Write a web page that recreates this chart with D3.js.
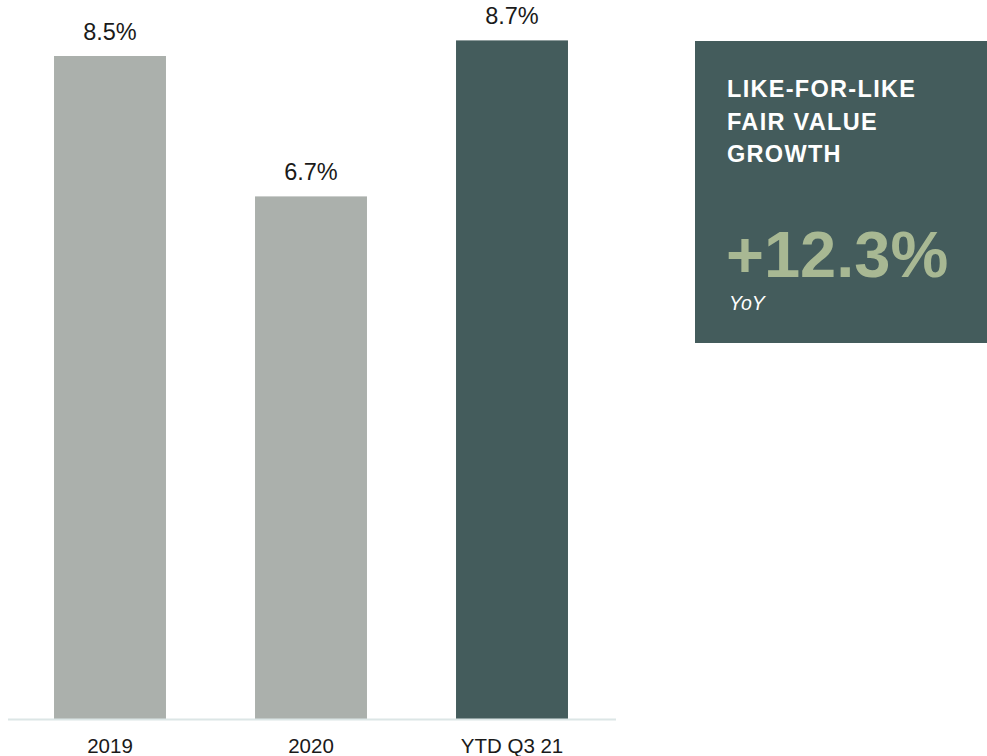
<!DOCTYPE html>
<html>
<head>
<meta charset="utf-8">
<script src="https://cdn.jsdelivr.net/npm/d3@7"></script>
<style>
  html, body { margin: 0; padding: 0; background: #ffffff; }
  svg { display: block; font-family: "Liberation Sans", Arial, sans-serif; }
</style>
</head>
<body>
<svg id="chart" width="987" height="756"></svg>
<script>
// Like-for-like fair value growth by period
const categories = ["2019", "2020", "YTD Q3 21"];
const values = [8.5, 6.7, 8.7];
const barColors = ["#abb0ac", "#abb0ac", "#445c5c"];
const valueLabels = ["8.5%", "6.7%", "8.7%"];

const calloutTitle = ["LIKE-FOR-LIKE", "FAIR VALUE", "GROWTH"];
const calloutValue = "+12.3%";
const calloutNote = "YoY";

const svg = d3.select("#chart");

const baseline = 719;
const x = d3.scaleBand()
  .domain(categories)
  .range([9.5, 612.5])
  .paddingInner(0.443)
  .paddingOuter(0.2215);

const y = d3.scaleLinear()
  .domain([0, 8.5])
  .range([baseline, 56]);

// Bars
svg.append("g")
  .selectAll("rect")
  .data(categories)
  .join("rect")
  .attr("x", d => x(d))
  .attr("width", x.bandwidth())
  .attr("y", (d, i) => y(values[i]))
  .attr("height", (d, i) => baseline - y(values[i]))
  .attr("fill", (d, i) => barColors[i]);

// Value labels above bars
svg.append("g")
  .selectAll("text")
  .data(categories)
  .join("text")
  .attr("x", d => x(d) + x.bandwidth() / 2)
  .attr("y", (d, i) => y(values[i]) - 16)
  .attr("text-anchor", "middle")
  .attr("font-size", 23.5)
  .attr("fill", "#1a1a1a")
  .text((d, i) => valueLabels[i]);

// Category axis
const axis = svg.append("g")
  .attr("transform", `translate(0,${baseline})`)
  .call(d3.axisBottom(x).tickSize(0).tickPadding(19.5));
axis.select(".domain")
  .attr("d", "M8,0.5H616")
  .attr("stroke", "#dce6e6")
  .attr("stroke-width", 2);
axis.selectAll(".tick text")
  .attr("font-size", 20.5)
  .attr("font-family", "'Liberation Sans', Arial, sans-serif")
  .attr("fill", "#1a1a1a");

// Callout box
const box = svg.append("g").attr("transform", "translate(695,41)");
box.append("rect")
  .attr("width", 292)
  .attr("height", 302)
  .attr("fill", "#445c5c");

box.append("g")
  .selectAll("text")
  .data(calloutTitle)
  .join("text")
  .attr("x", 32)
  .attr("y", (d, i) => 56 + i * 32.5)
  .attr("font-size", 23.5)
  .attr("font-weight", "bold")
  .attr("letter-spacing", 1.3)
  .attr("fill", "#ffffff")
  .text(d => d);

box.append("text")
  .attr("x", 31)
  .attr("y", 236)
  .attr("font-size", 65)
  .attr("font-weight", "bold")
  .attr("fill", "#a8b893")
  .text(calloutValue);

box.append("text")
  .attr("x", 34)
  .attr("y", 269)
  .attr("font-size", 19.5)
  .attr("font-style", "italic")
  .attr("fill", "#ffffff")
  .text(calloutNote);
</script>
</body>
</html>
